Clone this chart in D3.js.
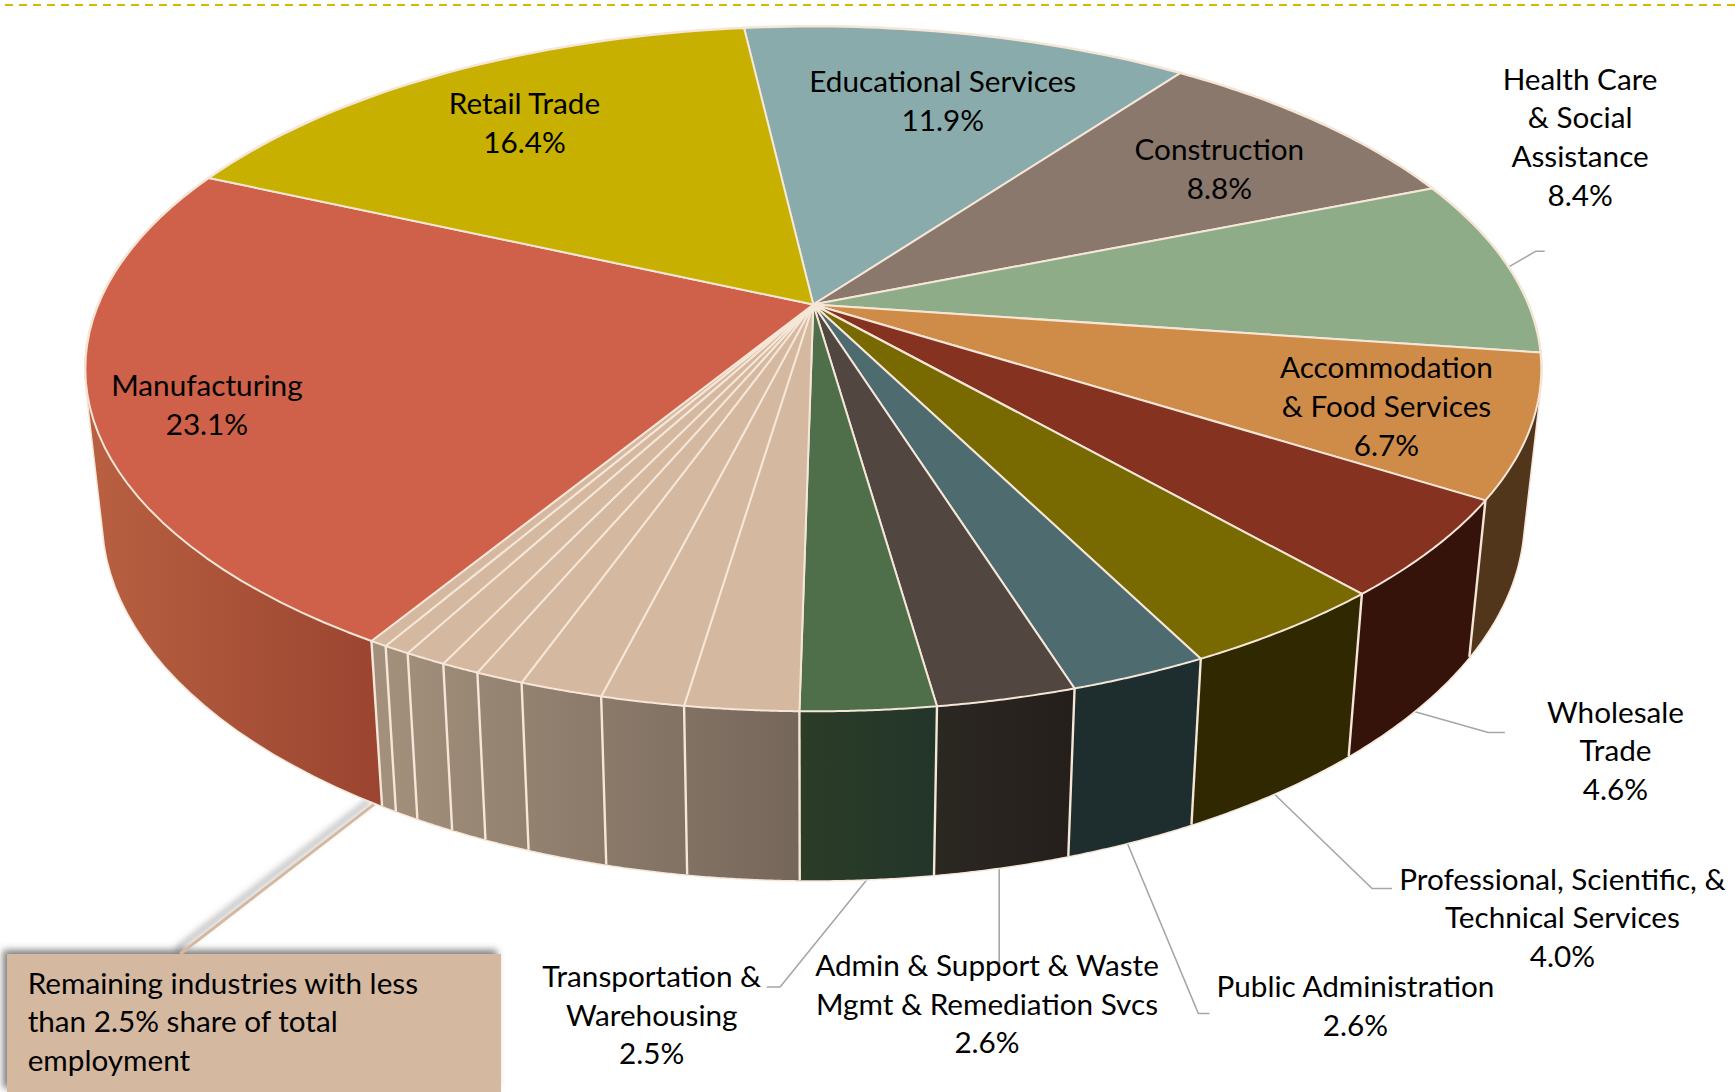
<!DOCTYPE html>
<html><head><meta charset="utf-8">
<script src="https://cdnjs.cloudflare.com/ajax/libs/d3/7.8.5/d3.min.js"></script>
<style>html,body{margin:0;padding:0;background:#fff}svg{display:block}text{font-family:Lato,"Open Sans",sans-serif;fill:#000}</style>
</head><body><svg id="c" width="1735" height="1092"></svg>
<script>
// Data, clockwise from the Educational Services slice
const industries = ["Educational Services","Construction","Health Care & Social Assistance","Accommodation & Food Services","Wholesale Trade","Professional, Scientific, & Technical Services","Public Administration","Admin & Support & Waste Mgmt & Remediation Svcs","Transportation & Warehousing","Remaining 1","Remaining 2","Remaining 3","Remaining 4","Remaining 5","Remaining 6","Remaining 7","Remaining 8","Manufacturing","Retail Trade"];
const shares = [11.9,8.8,8.4,6.7,4.6,4.0,2.6,2.6,2.5,2.1,1.55,1.55,0.9,0.72,0.78,0.5,0.33,23.1,16.4];
const topColors = ["#8aabac","#8a786c","#8dac87","#cf8c48","#853220","#786a00","#4e6c70","#524640","#4f6f4b","#d4b8a0","#d4b8a0","#d4b8a0","#d4b8a0","#d4b8a0","#d4b8a0","#d4b8a0","#d4b8a0","#cf614a","#c7b000"];
const labelLines = {
  "Manufacturing":["Manufacturing","23.1%"],
  "Retail Trade":["Retail Trade","16.4%"],
  "Educational Services":["Educational Services","11.9%"],
  "Construction":["Construction","8.8%"],
  "Health Care":["Health Care","& Social","Assistance","8.4%"],
  "Accommodation":["Accommodation","& Food Services","6.7%"],
  "Wholesale":["Wholesale","Trade","4.6%"],
  "Professional":["Professional, Scientific, &","Technical Services","4.0%"],
  "Public":["Public Administration","2.6%"],
  "Admin":["Admin & Support & Waste","Mgmt & Remediation Svcs","2.6%"],
  "Transportation":["Transportation &","Warehousing","2.5%"]
};
const calloutLines = ["Remaining industries with less","than 2.5% share of total","employment"];

// Layout
const S = 1735/1568;
const svg = d3.select("#c");
const cx = 813.3, apexY = 304.5, f = 715, g = 330.3, k = 0.188;
const project = (a) => { // a: clockwise from top
  const u = Math.sin(a), v = -Math.cos(a), w = 1 - k*v;
  return [cx + f*u/w, apexY + g*v/w];
};
const lower = ([x,y]) => [cx + (x-cx)*0.976, y*1.059 + 127];
const line = d3.line();
const startA = -6.6*Math.PI/180;
const pie = d3.pie().sort(null).value(d=>d).startAngle(startA).endAngle(startA+2*Math.PI);
const arcs = pie(shares);
const samples = (a0,a1) => d3.range(0,41).map(i=>project(a0+(a1-a0)*i/40));

// gradients for walls
const defs = svg.append("defs");
const grad = (id,x1,x2,c1,c2)=>{
  const gr = defs.append("linearGradient").attr("id",id).attr("gradientUnits","userSpaceOnUse").attr("x1",x1).attr("x2",x2).attr("y1",0).attr("y2",0);
  gr.append("stop").attr("offset",0).attr("stop-color",c1);
  gr.append("stop").attr("offset",1).attr("stop-color",c2);
  return `url(#${id})`;
};
const wallFills = [
 "#51361c","#51361c","#51361c","#51361c","#35130a","#2f2800","#1e2d2e",
 grad("gA",935,1072,"#2b2721","#251f1c"),
 grad("gG",802,940,"#2b3d27","#22352a")];
const gRem = grad("gR",385,802,"#a3907c","#75665a");
for(let i=0;i<8;i++) wallFills.push(gRem);
wallFills.push(grad("gM",90,385,"#b86040","#9a4431"));
wallFills.push("#b86040");

const shadow = defs.append("filter").attr("id","sh").attr("filterUnits","userSpaceOnUse").attr("x",-20).attr("y",700).attr("width",700).attr("height",420);
shadow.append("feDropShadow").attr("dx",-4).attr("dy",-4).attr("stdDeviation",3.5).attr("flood-color","#555").attr("flood-opacity",0.75);

// top dashed rule
svg.append("line").attr("x1",5).attr("x2",1735).attr("y1",5).attr("y2",5).attr("stroke","#d4bb00").attr("stroke-width",2).attr("stroke-dasharray","8 6");

// leaders behind
const leaders = [
 [[1364,241],[1388,227],[1396,227]],
 [[1278,643],[1345,662],[1360,662]],
 [[1150,716],[1240,803],[1258,803]],
 [[1018,760],[1083,916],[1093,916]],
 [[903,782],[903,880]],
 [[785,793],[705,892],[693,892]]
];
svg.append("g").selectAll("path").data(leaders).join("path")
  .attr("d",d=>line(d.map(p=>[p[0]*S,p[1]*S]))).attr("fill","none").attr("stroke","#a6a6a6").attr("stroke-width",1.6);

// callout
const callout = svg.append("g").attr("filter","url(#sh)");
callout.append("line").attr("x1",338*S).attr("y1",727*S).attr("x2",163*S).attr("y2",862*S).attr("stroke","#d4b8a0").attr("stroke-width",3);
callout.append("rect").attr("x",7).attr("y",954).attr("width",494).attr("height",138).attr("fill","#d4b8a0");

// walls: consistently wound quads in one path, so the fold at the silhouette stays filled
const wallPath = (d) => {
  const t = samples(d.startAngle,d.endAngle);
  return t.slice(1).map((p,j)=>{
    const q = [t[j],p,lower(p),lower(t[j])];
    return line(d3.polygonArea(q)<0 ? q.reverse() : q)+"Z";
  }).join("");
};
svg.append("g").selectAll("path").data(arcs).join("path")
  .attr("d",wallPath).attr("fill","none").attr("stroke","#f5e6d8").attr("stroke-width",3).attr("stroke-linejoin","round");
svg.append("g").selectAll("path").data(arcs).join("path")
  .attr("d",wallPath).attr("fill",(d,i)=>wallFills[i]).attr("fill-rule","nonzero");
const isFront = (d)=>{const p=project(d.startAngle);return p[1]>400 && p[1]>apexY;};
svg.append("g").selectAll("path").data(arcs.filter(isFront)).join("path")
  .attr("d",d=>{const p=project(d.startAngle);return line([p,lower(p)]);})
  .attr("fill","none").attr("stroke","#f5e6d8").attr("stroke-width",2.4);

// top face
svg.append("g").selectAll("path").data(arcs).join("path")
  .attr("d",d=>line([[cx,apexY]].concat(samples(d.startAngle,d.endAngle)))+"Z")
  .attr("fill",(d,i)=>topColors[i]).attr("stroke","#f5e6d8").attr("stroke-width",2).attr("stroke-linejoin","round");

// labels
const FS = 29.7, LH = 35*S;
const labelAt = [
 ["Manufacturing",187,349],["Retail Trade",474,94],["Educational Services",852,74],["Construction",1102,136],
 ["Health Care",1428,72],["Accommodation",1253,333],["Wholesale",1460,644],["Professional",1412,795],
 ["Public",1225,892],["Admin",892,873],["Transportation",589,883]
];
const lab = svg.append("g").attr("font-size",FS).attr("text-anchor","middle");
labelAt.forEach(([key,x,y])=>{
  lab.selectAll(null).data(labelLines[key]).join("text")
    .attr("x",x*S).attr("y",(d,i)=>y*S+10+i*LH).text(d=>d);
});
svg.append("g").attr("font-size",FS).selectAll("text").data(calloutLines).join("text")
  .attr("x",25*S).attr("y",(d,i)=>889*S+10+i*LH).text(d=>d);
</script></body></html>
